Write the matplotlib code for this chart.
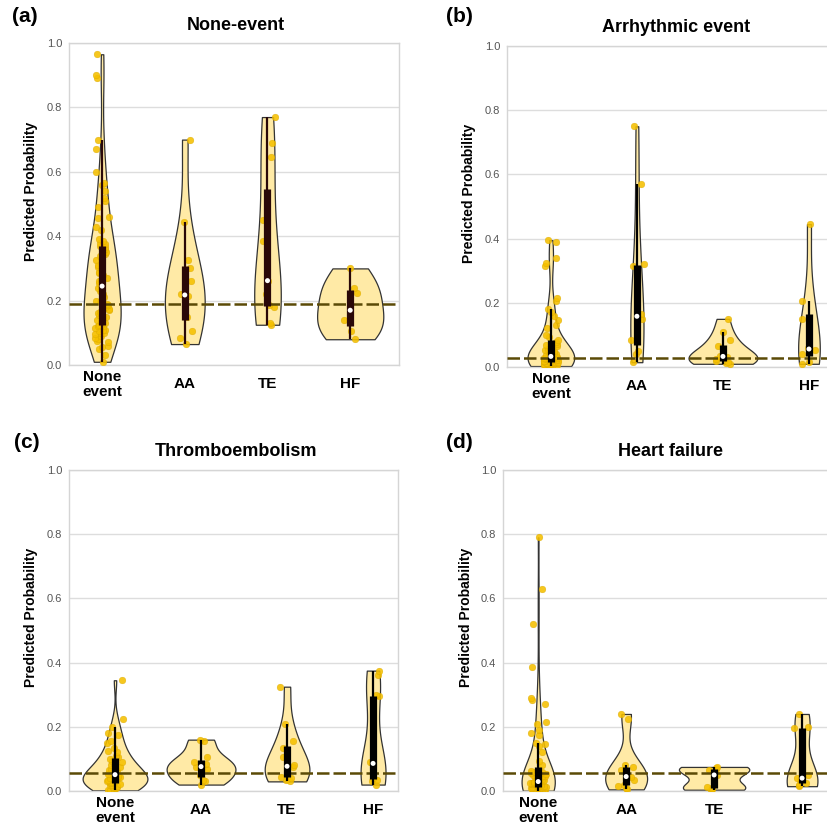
import numpy as np
import pandas as pd
import matplotlib
matplotlib.use("Agg")
import matplotlib.pyplot as plt
import seaborn as sns

plt.rcParams['font.family'] = ['Liberation Sans', 'DejaVu Sans']

groups = ["None\nevent", "AA", "TE", "HF"]

# (a) None-event model
a_none = [0.01, 0.03, 0.05, 0.055, 0.06, 0.07, 0.075, 0.08, 0.085, 0.09, 0.095, 0.10, 0.10, 0.105,
          0.11, 0.11, 0.115, 0.12, 0.12, 0.123, 0.125, 0.13, 0.135, 0.14, 0.145, 0.15, 0.155, 0.16,
          0.165, 0.17, 0.175, 0.18, 0.185, 0.19, 0.195, 0.20, 0.21, 0.22, 0.23, 0.24, 0.245, 0.25,
          0.255, 0.26, 0.265, 0.27, 0.28, 0.285, 0.29, 0.30, 0.305, 0.31, 0.32, 0.325, 0.33, 0.34,
          0.345, 0.35, 0.36, 0.365, 0.37, 0.375, 0.38, 0.385, 0.39, 0.42, 0.43, 0.455, 0.46, 0.49,
          0.51, 0.52, 0.54, 0.56, 0.565, 0.60, 0.67, 0.70, 0.89, 0.90, 0.965]
a_aa = [0.065, 0.085, 0.105, 0.15, 0.185, 0.215, 0.22, 0.26, 0.30, 0.325, 0.445, 0.70]
a_te = [0.125, 0.13, 0.18, 0.185, 0.22, 0.262, 0.385, 0.45, 0.645, 0.69, 0.77]
a_hf = [0.08, 0.105, 0.14, 0.17, 0.225, 0.24, 0.30]

# (b) Arrhythmic event model
b_none = [0.003, 0.004, 0.005, 0.006, 0.007, 0.008, 0.009, 0.01, 0.01, 0.011, 0.012, 0.012, 0.013,
          0.014, 0.015, 0.016, 0.017, 0.018, 0.019, 0.02, 0.021, 0.022, 0.023, 0.024, 0.025, 0.026,
          0.027, 0.028, 0.029, 0.031, 0.033, 0.035, 0.037, 0.04, 0.042, 0.045, 0.048, 0.05, 0.053,
          0.056, 0.06, 0.064, 0.068, 0.072, 0.078, 0.085, 0.095, 0.10, 0.12, 0.13, 0.145, 0.16,
          0.17, 0.18, 0.205, 0.215, 0.315, 0.325, 0.34, 0.39, 0.395]
b_aa = [0.015, 0.04, 0.05, 0.085, 0.15, 0.158, 0.165, 0.315, 0.32, 0.57, 0.75]
b_te = [0.01, 0.012, 0.016, 0.02, 0.026, 0.031, 0.035, 0.055, 0.065, 0.085, 0.11, 0.15]
b_hf = [0.01, 0.015, 0.04, 0.052, 0.06, 0.15, 0.205, 0.445]

# (c) Thromboembolism model
c_none = [0.002, 0.004, 0.006, 0.008, 0.01, 0.012, 0.014, 0.016, 0.018, 0.02, 0.022, 0.024,
          0.026, 0.028, 0.03, 0.032, 0.035, 0.037, 0.04, 0.042, 0.044, 0.046, 0.048, 0.05,
          0.052, 0.055, 0.058, 0.062, 0.066, 0.07, 0.075, 0.08, 0.085, 0.09, 0.095, 0.10,
          0.105, 0.11, 0.12, 0.125, 0.135, 0.15, 0.155, 0.175, 0.18, 0.20, 0.225, 0.345]
c_aa = [0.02, 0.03, 0.035, 0.05, 0.07, 0.076, 0.085, 0.09, 0.105, 0.155, 0.16]
c_te = [0.03, 0.035, 0.04, 0.045, 0.06, 0.074, 0.08, 0.105, 0.135, 0.155, 0.21, 0.325]
c_hf = [0.02, 0.03, 0.035, 0.04, 0.08, 0.086, 0.09, 0.295, 0.30, 0.36, 0.375]

# (d) Heart failure model
d_none = [0.001, 0.002, 0.003, 0.004, 0.004, 0.005, 0.006, 0.006, 0.007, 0.008, 0.008, 0.009,
          0.01, 0.01, 0.011, 0.011, 0.012, 0.012, 0.013, 0.014, 0.015, 0.016, 0.017, 0.018,
          0.019, 0.02, 0.021, 0.022, 0.023, 0.024, 0.025, 0.026, 0.027, 0.028, 0.029, 0.03,
          0.032, 0.034, 0.036, 0.038, 0.04, 0.042, 0.044, 0.046, 0.048, 0.05, 0.052, 0.054,
          0.056, 0.058, 0.06, 0.062, 0.08, 0.095, 0.12, 0.14, 0.145, 0.15, 0.175, 0.18, 0.19,
          0.21, 0.215, 0.27, 0.285, 0.29, 0.385, 0.52, 0.63, 0.79]
d_aa = [0.005, 0.01, 0.015, 0.02, 0.035, 0.045, 0.045, 0.065, 0.075, 0.08, 0.225, 0.24]
d_te = [0.004, 0.006, 0.01, 0.014, 0.05, 0.066, 0.07, 0.073, 0.075]
d_hf = [0.015, 0.018, 0.025, 0.035, 0.04, 0.05, 0.195, 0.20, 0.24]

titles = ["None-event", "Arrhythmic event", "Thromboembolism", "Heart failure"]
letters = ["(a)", "(b)", "(c)", "(d)"]
ref_lines = [0.189, 0.029, 0.057, 0.055]
panel_data = [[a_none, a_aa, a_te, a_hf], [b_none, b_aa, b_te, b_hf],
              [c_none, c_aa, c_te, c_hf], [d_none, d_aa, d_te, d_hf]]

W, H = 828, 831
fig = plt.figure(figsize=(W / 100, H / 100), dpi=100)

def fx(x):
    return x / W

def fy(y):
    return 1 - y / H

# axes boxes in pixels: left, top, right, bottom ; x limits
boxes = [(69, 43, 399, 365), (507, 46, 850, 367), (69, 470, 398, 791), (503, 470, 850, 791)]
xlims = [(-0.40, 3.59), (-0.51, 3.477), (-0.535, 3.29), (-0.40, 3.545)]
title_pos = [(236, 26), (676, 27), (236, 452), (671, 452)]
letter_pos = [(12, 17), (446, 17), (14, 442), (446, 442)]
ylab_pos = [(31, 191), (469, 193), (31, 617), (466, 617)]
box_colors = ["#2a0808", "black", "black", "black"]

fill_c = "#ffeaa6"
edge_c = "#333333"
point_c = "#f5c000"
dash_c = "#5b4a06"

np.random.seed(3)
for k in range(4):
    l, t, r, b = boxes[k]
    ax = fig.add_axes([fx(l), fy(b), fx(r - l), (b - t) / H])
    rows = []
    for g, vals in zip(groups, panel_data[k]):
        for v in vals:
            rows.append((g, v))
    df = pd.DataFrame(rows, columns=["group", "value"])

    sns.violinplot(data=df, x="group", y="value", order=groups, ax=ax, inner=None, cut=0,
                   density_norm="area", color=fill_c, linecolor=edge_c, linewidth=0.9,
                   saturation=1, width=0.8)
    sns.stripplot(data=df, x="group", y="value", order=groups, ax=ax, color=point_c,
                  size=4.8, jitter=0.09, alpha=0.88, edgecolor="#d9a800", linewidth=0.3,
                  zorder=3)

    ax.axhline(ref_lines[k], color=dash_c, lw=1.8, ls=(0, (5, 1.6)), zorder=4)

    for i, vals in enumerate(panel_data[k]):
        v = np.array(vals)
        q1, med, q3 = np.percentile(v, [25, 50, 75])
        iqr = q3 - q1
        lo = v[v >= q1 - 1.5 * iqr].min()
        hi = v[v <= q3 + 1.5 * iqr].max()
        ax.vlines(i, lo, hi, color=box_colors[k], lw=1.6, zorder=5)
        ax.vlines(i, q1, q3, color=box_colors[k], lw=5.2, zorder=5)
        ax.scatter([i], [med], s=13, color="white", zorder=6, edgecolors="none")

    ax.set_xlim(*xlims[k])
    ax.set_ylim(0, 1.0)
    ax.set_yticks(np.arange(0, 1.01, 0.2))
    ax.set_yticklabels([f"{v:.1f}" for v in np.arange(0, 1.01, 0.2)])
    ax.set_xlabel("")
    ax.set_ylabel("")
    ax.yaxis.grid(True, color="#dddddd", lw=1)
    ax.xaxis.grid(False)
    ax.set_axisbelow(True)
    for s in ax.spines.values():
        s.set_color("#d5d5d5")
        s.set_linewidth(1)
    ax.tick_params(axis="y", length=0, pad=5, labelsize=8, labelcolor="#555555")
    ax.tick_params(axis="x", length=0, pad=14, labelsize=11)
    for lab in ax.get_xticklabels():
        lab.set_fontweight("bold")
        lab.set_verticalalignment("center")
        lab.set_linespacing(1.05)

    fig.text(fx(title_pos[k][0]), fy(title_pos[k][1]), titles[k], ha="center", va="center",
             fontsize=13, fontweight="bold")
    fig.text(fx(letter_pos[k][0]), fy(letter_pos[k][1]), letters[k], ha="left", va="center",
             fontsize=15, fontweight="bold")
    fig.text(fx(ylab_pos[k][0]), fy(ylab_pos[k][1]), "Predicted Probability", ha="center",
             va="center", rotation=90, fontsize=10, fontweight="bold")

fig.savefig("out.png", dpi=100)
